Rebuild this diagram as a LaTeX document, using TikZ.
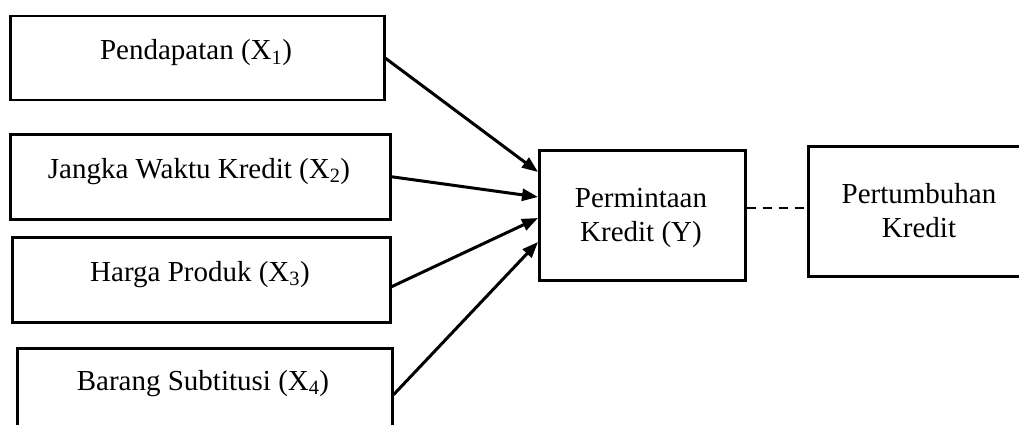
\documentclass[tikz,border=0pt]{standalone}
\usepackage{fontspec}
\setmainfont{Liberation Serif}
\usetikzlibrary{calc,arrows.meta}
\tikzset{
  box/.style={draw=black, line width=2.5pt, minimum width=#1, inner sep=0pt, anchor=north west},
  txt/.style={inner sep=0pt, anchor=base, font=\fontsize{29}{34}\selectfont, align=center},
  arr/.style={line width=3pt, -{Triangle[length=16pt,width=12pt]}},
  dashline/.style={line width=2.8pt, dash pattern=on 9pt off 7pt}
}
\begin{document}
\begin{tikzpicture}[x=1pt,y=-1pt]
\useasboundingbox (0,0) rectangle (1019,425);
\clip (0,0) rectangle (1019,425);
% boxes
\node[box=374pt, minimum height=84pt] (b1) at (9,15) {};
\node[box=380pt, minimum height=85pt] (b2) at (9,133) {};
\node[box=378pt, minimum height=85pt] (b3) at (11,236) {};
\node[box=375pt, minimum height=93pt] (b4) at (16,347) {};
\node[box=206pt, minimum height=130pt] (y) at (538,149) {};
\node[box=224pt, minimum height=130pt] (p) at (807,145) {};
% texts
\node[txt] (t1) at (196,60) {Pendapatan (X\textsubscript{1})};
\node[txt] (t2) at (199,178) {Jangka Waktu Kredit (X\textsubscript{2})};
\node[txt] (t3) at (200,281) {Harga Produk (X\textsubscript{3})};
\node[txt] (t4) at (203,390) {Barang Subtitusi (X\textsubscript{4})};
\node[txt] (ty1) at (641,207) {Permintaan};
\node[txt] (ty2) at (641,241) {Kredit (Y)};
\node[txt] (tp1) at (919,203) {Pertumbuhan};
\node[txt] (tp2) at (919,237) {Kredit};
% connection points
\coordinate (e1) at ($(y.north west)+(0,23)$);
\coordinate (e2) at ($(y.north west)+(0,48)$);
\coordinate (e3) at ($(y.north west)+(0,69)$);
\coordinate (e4) at ($(y.north west)+(0,93)$);
\coordinate (s3) at ($(b3.east)+(0,7)$);
\coordinate (d1) at ($(y.north east)+(0,59)$);
\coordinate (d2) at ($(p.north west)+(0,63)$);
% arrows
\draw[arr] (b1.east) -- (e1);
\draw[arr] (b2.east) -- (e2);
\draw[arr] (s3) -- (e3);
\draw[arr] (b4.east) -- (e4);
\draw[dashline] (d1) -- (d2);
\end{tikzpicture}
\end{document}
